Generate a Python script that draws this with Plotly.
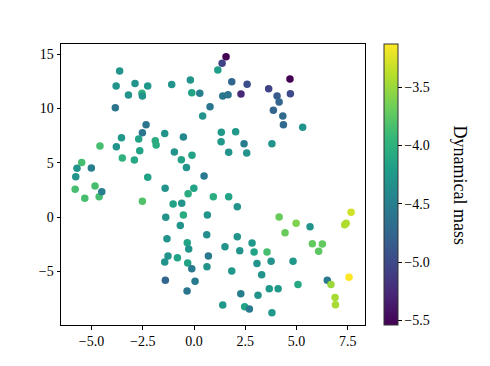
import plotly.graph_objects as go

# values
x = [-3.63, -3.80, -2.88, -2.26, -3.20, -2.54, -2.52, -1.09, -0.18, -0.11,
     0.28, 0.78, 0.42, -3.84, -2.34, -2.52, -3.54, -2.70, -1.43, -1.89,
     -1.85, -0.52, -4.59, -3.79, -2.65, -3.50, -2.91, -0.96, -0.62, -0.10,
     -0.37, -5.48, -5.71, -5.01, -5.77, -2.26, 0.49, -5.80, -4.83, -1.41,
     -0.01, -5.33, -4.63, -4.50, -2.52, -0.29, 0.94, 1.69, -1.02, -0.60,
     -1.38, -0.52, 0.65, -0.67, 0.62, -1.32, -0.33, -0.26, -1.27, -1.43,
     -0.81, -0.31, -0.11, 0.70, 0.63, -1.40, 0.05, -0.34, 2.11, 4.15,
     4.98, 5.66, 4.44, 7.66, 7.35, 7.42, 5.77, 6.26, 6.08, 2.11,
     2.83, 1.51, 2.23, 2.93, 3.56, 3.07, 3.76, 4.83, 1.84, 3.30,
     6.50, 6.68, 7.56, 5.07, 3.67, 4.10, 2.28, 3.12, 6.88, 6.90,
     1.40, 2.47, 2.70, 3.80, 1.56, 1.37, 1.16, 1.84, 2.59, 2.29,
     1.40, 1.66, 3.64, 4.68, 4.70, 4.05, 4.15, 3.87, 4.33, 4.36,
     5.30, 1.33, 2.03, 1.32, 2.44, 3.80, 1.69, 2.57]
y = [13.45, 12.06, 12.30, 12.06, 11.23, 11.39, 11.14, 12.19, 12.62, 11.45,
     11.39, 10.16, 9.30, 10.07, 8.50, 7.77, 7.30, 7.18, 7.70, 7.03,
     6.63, 7.37, 6.54, 6.48, 6.11, 5.43, 5.25, 5.99, 5.28, 5.68,
     4.57, 5.03, 4.48, 4.51, 3.71, 3.66, 3.78, 2.55, 2.85, 2.64,
     2.64, 1.72, 1.87, 2.33, 1.45, 2.15, 1.87, 1.87, 1.20, 1.26,
     -0.03, 0.18, 0.18, -0.77, -1.63, -2.00, -2.36, -2.95, -3.59, -4.14,
     -3.75, -4.24, -4.76, -3.59, -4.58, -5.83, -5.92, -6.81, 0.95, 0.00,
     -0.58, -0.89, -1.44, 0.43, -0.72, -0.58, -2.45, -2.49, -3.16, -1.81,
     -2.39, -2.73, -3.10, -3.22, -3.22, -4.27, -4.08, -4.08, -4.97, -5.31,
     -5.83, -6.20, -5.55, -6.20, -6.60, -6.60, -7.06, -7.21, -7.40, -8.07,
     -8.10, -8.26, -8.47, -8.81, 14.76, 14.15, 13.54, 12.46, 12.22, 11.33,
     11.14, 11.26, 11.82, 12.71, 11.36, 11.14, 10.59, 9.82, 9.30, 8.50,
     8.26, 7.80, 7.86, 6.93, 6.75, 6.75, 5.96, 5.89]
mass = [-4.30, -4.30, -4.30, -4.25, -4.30, -4.00, -4.30, -4.30, -4.30, -4.15,
        -4.50, -4.60, -4.30, -4.60, -4.60, -4.60, -4.25, -4.15, -4.30, -4.05,
        -4.05, -4.40, -3.85, -4.30, -4.15, -4.00, -4.10, -4.30, -4.15, -4.15,
        -4.30, -3.85, -4.30, -4.50, -4.30, -4.15, -4.55, -3.85, -3.85, -4.30,
        -4.15, -3.85, -3.85, -4.50, -3.80, -4.05, -4.05, -4.15, -4.15, -4.30,
        -4.30, -4.05, -4.30, -4.30, -4.35, -4.30, -4.15, -4.30, -4.30, -4.30,
        -4.15, -4.15, -4.55, -4.55, -4.30, -4.75, -4.55, -4.60, -4.30, -3.70,
        -3.60, -4.30, -3.70, -3.30, -3.42, -3.42, -3.72, -3.72, -3.75, -4.30,
        -4.25, -4.30, -4.30, -4.15, -3.85, -4.30, -4.30, -4.25, -4.25, -4.30,
        -4.55, -3.50, -3.13, -4.10, -4.25, -4.25, -4.50, -4.30, -3.45, -3.45,
        -4.25, -4.15, -4.55, -4.25, -5.54, -5.05, -4.20, -4.75, -4.95, -5.25,
        -4.60, -4.60, -5.05, -5.54, -5.00, -4.85, -4.75, -4.75, -4.72, -4.72,
        -4.30, -4.25, -4.25, -4.25, -4.50, -4.30, -4.30, -4.30]

serif = "Liberation Serif"

fig = go.Figure(go.Scatter(
    x=x, y=y, mode="markers",
    marker=dict(
        size=7.5, color=mass, colorscale="Viridis",
        cmin=-5.54, cmax=-3.13,
        line=dict(width=0),
        colorbar=dict(
            x=1.0625, xanchor="left", xpad=0, ypad=0,
            y=0.5, yanchor="middle", len=1, lenmode="fraction",
            thickness=14, outlinewidth=1, outlinecolor="#333",
            tickvals=[-5.5, -5.0, -4.5, -4.0, -3.5],
            ticktext=["\u22125.5", "\u22125.0", "\u22124.5", "\u22124.0", "\u22123.5"],
            ticks="outside", ticklen=3.5, tickcolor="black",
            tickfont=dict(family=serif, size=14, color="black"),
        ),
    ),
    showlegend=False,
))

axis_common = dict(
    showgrid=False, zeroline=False, showline=True, mirror=True,
    linecolor="black", linewidth=1, ticks="outside", ticklen=3.5,
    tickcolor="black", tickfont=dict(family=serif, size=14, color="black"),
)
fig.update_xaxes(range=[-6.49, 8.34], tickvals=[-5, -2.5, 0, 2.5, 5, 7.5],
                 tickformat=".1f", **axis_common)
fig.update_yaxes(range=[-9.94, 15.93], tickvals=[-5, 0, 5, 10, 15],
                 tickformat="d", **axis_common)

fig.add_annotation(
    text="Dynamical mass", textangle=90, showarrow=False,
    xref="paper", yref="paper", x=1.3125, y=0.5,
    xanchor="center", yanchor="middle",
    font=dict(family=serif, size=18, color="black"),
)

# page body has an 8px margin, so shift everything up/left by 8px
fig.update_layout(
    width=490, height=366,
    margin=dict(l=53, r=133, t=36, b=49),
    paper_bgcolor="white", plot_bgcolor="white",
)

fig.write_html("out.html")
